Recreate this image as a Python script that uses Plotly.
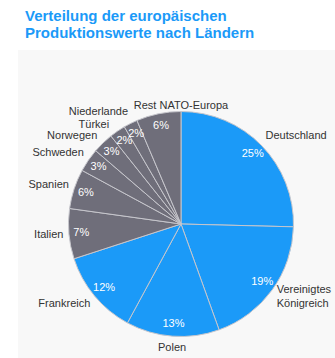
import math
import plotly.graph_objects as go

# Production value shares by country (percent of European total)
countries = ["Deutschland", "Vereinigtes Königreich", "Polen", "Frankreich", "Italien",
             "Spanien", "Schweden", "Norwegen", "Türkei", "Niederlande", "Rest NATO-Europa"]
shares = [25.4, 19.1, 13.4, 12.1, 7.2, 5.7, 3.4, 3.0, 2.3, 2.0, 6.4]
label_text = ["Deutschland", "Vereinigtes<br>Königreich", "Polen", "Frankreich", "Italien",
              "Spanien", "Schweden", "Norwegen", "Türkei", "Niederlande", "Rest NATO-Europa"]
highlighted = ["Deutschland", "Vereinigtes Königreich", "Polen", "Frankreich"]
title_lines = ["Verteilung der europäischen", "Produktionswerte nach Ländern"]

BLUE = "#1b9af8"
GREY = "#6f6e7a"
EDGE = "#c6c6cc"
FONT = "Liberation Sans, Arial, sans-serif"

W, H = 335, 358
cx, cy, R = 181, 224, 112.5  # pie centre and radius in pixels (from top-left)
R_MAX = 1.15                 # radial range leaves room for the outside labels
Rd = R * R_MAX

# outside labels sit on a slightly flattened ring around the pie
LAB_RX, LAB_RY = 118.0, 125.0
# small vertical nudges (px, downwards) to keep crowded labels apart;
# a nudged label slides along the ring
nudge_y = {"Norwegen": 2.0, "Türkei": 4.0}

dom_x = [(cx - Rd) / W, (cx + Rd) / W]
dom_y = [(H - cy - Rd) / H, (H - cy + Rd) / H]

colors = [BLUE if c in highlighted else GREY for c in countries]

# slice geometry in degrees, clockwise from 12 o'clock
total = sum(shares)
spans = [v / total * 360 for v in shares]
mid_angles = []
acc = 0.0
for s in spans:
    mid_angles.append(acc + s / 2)
    acc += s
pct_text = [f"{round(v / total * 100):d}%" for v in shares]

fig = go.Figure()

# pie slices as polar bars
fig.add_trace(go.Barpolar(
    r=[1] * len(shares), theta=mid_angles, width=spans, base=0,
    marker=dict(color=colors, line=dict(color=EDGE, width=1)),
    customdata=[[c, p] for c, p in zip(countries, pct_text)],
    hovertemplate="%{customdata[0]}: %{customdata[1]}<extra></extra>",
    showlegend=False,
))

# percentage labels near the rim of each slice
fig.add_trace(go.Scatterpolar(
    r=[0.89] * len(shares), theta=mid_angles, mode="text", text=pct_text,
    textposition="middle center", textfont=dict(family=FONT, size=11, color="white"),
    hoverinfo="skip", showlegend=False, cliponaxis=False,
))

# country names outside the pie
lab_r, lab_theta, lab_pos = [], [], []
for name, ang in zip(countries, mid_angles):
    if name == "Rest NATO-Europa":
        lab_r.append(1.0)
        lab_theta.append(0)
        lab_pos.append("top center")
        continue
    a = math.radians(ang)
    dy = LAB_RY * math.cos(a) - nudge_y.get(name, 0.0)  # dy positive = up
    side = 1.0 if math.sin(a) >= 0 else -1.0
    dx = side * LAB_RX * math.sqrt(max(0.0, 1 - (dy / LAB_RY) ** 2))
    lab_r.append(math.hypot(dx, dy) / R)
    lab_theta.append(math.degrees(math.atan2(dx, dy)) % 360)
    if abs(math.sin(a)) < 0.2:
        lab_pos.append("middle center")
    else:
        lab_pos.append("middle right" if ang < 180 else "middle left")

fig.add_trace(go.Scatterpolar(
    r=lab_r, theta=lab_theta, mode="text", text=label_text,
    textposition=lab_pos, textfont=dict(family=FONT, size=11, color="#333333"),
    hoverinfo="skip", showlegend=False, cliponaxis=False,
))

fig.update_layout(
    width=W, height=H,
    margin=dict(l=0, r=0, t=0, b=0),
    paper_bgcolor="white",
    plot_bgcolor="white",
    polar=dict(
        domain=dict(x=dom_x, y=dom_y),
        bgcolor="rgba(0,0,0,0)",
        bargap=0,
        radialaxis=dict(visible=False, range=[0, R_MAX]),
        angularaxis=dict(visible=False, rotation=90, direction="clockwise"),
    ),
    shapes=[dict(type="rect", xref="paper", yref="paper",
                 x0=18 / W, x1=1, y0=0, y1=(H - 50) / H,
                 fillcolor="#f8f8f8", line=dict(width=0), layer="below")],
    annotations=[
        dict(text=f"<b>{t}</b>", xref="paper", yref="paper",
             x=23 / W, y=1 - (5 + 17 * i) / H,
             xanchor="left", yanchor="top", align="left", showarrow=False,
             font=dict(family=FONT, size=15, color=BLUE))
        for i, t in enumerate(title_lines)
    ],
)

fig.write_html("out.html")
